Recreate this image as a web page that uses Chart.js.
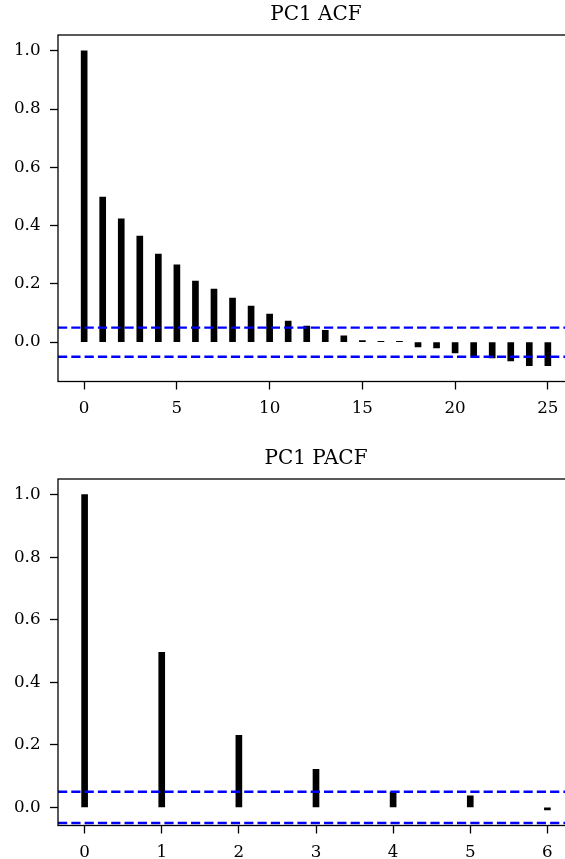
<!DOCTYPE html>
<html>
<head>
<meta charset="utf-8">
<script src="https://cdn.jsdelivr.net/npm/chart.js@4.4.1/dist/chart.umd.min.js"></script>
<style>
   body { margin: 0; background: #fff; overflow: hidden; }
   .wrap { position: relative; width: 565px; height: 859px; overflow: hidden; }
   canvas { position: absolute; left: 0; }
</style>
</head>
<body>
<div class="wrap">
   <canvas id="acfChart" width="580" height="444" style="top:0px"></canvas>
   <canvas id="pacfChart" width="580" height="444" style="top:444px"></canvas>
</div>
<script>
// ==========================================
// Data
// ==========================================

const acfLags = [0, 1, 2, 3, 4, 5, 6, 7, 8, 9, 10, 11, 12, 13, 14, 15, 16, 17, 18, 19, 20, 21, 22, 23, 24, 25];
const acfValues = [1.0, 0.498, 0.423, 0.364, 0.302, 0.265, 0.210, 0.182, 0.151, 0.124, 0.096, 0.072, 0.055,
   0.041, 0.022, 0.005, 0.003, 0.003, -0.016, -0.020, -0.037, -0.046, -0.054, -0.064, -0.081, -0.081];

const pacfLags = [0, 1, 2, 3, 4, 5, 6];
const pacfValues = [1.0, 0.496, 0.230, 0.122, 0.050, 0.037, -0.008];

// confidence band drawn as dashed lines
const confBound = 0.05;

// tick labels
const acfXTicks = [0, 5, 10, 15, 20, 25];
const pacfXTicks = [0, 1, 2, 3, 4, 5, 6];
const yTicks = [0.0, 0.2, 0.4, 0.6, 0.8, 1.0];

// ==========================================
// Chart setup
// ==========================================

const fontFamily = "'DejaVu Serif', 'Liberation Serif', serif";

// matplotlib style box round the plot area
const framePlugin = {
   id: "frame",
   afterDraw(chart) {
      const { ctx, chartArea: a } = chart;
      ctx.save();
      ctx.strokeStyle = "#000";
      ctx.lineWidth = 1.3;
      ctx.strokeRect(a.left, a.top, a.right - a.left, a.bottom - a.top);
      ctx.restore();
   }
};

function bandLine(y, xMin, xMax) {
   return {
      type: "line",
      data: [{ x: xMin, y: y }, { x: xMax, y: y }],
      borderColor: "#0000ff",
      borderWidth: 2.4,
      borderDash: [9.2, 4.1],
      pointRadius: 0,
      fill: false,
      order: 0
   };
}

function makeChart(id, title, lags, values, xTicks, xMin, xMax, yMin, yMax) {
   const tickGrid = { drawOnChartArea: false, drawTicks: true, tickLength: 8, tickWidth: 1.3, tickColor: "#000" };
   return new Chart(document.getElementById(id), {
      type: "bar",
      data: {
         datasets: [
            {
               data: lags.map((l, i) => ({ x: l, y: values[i] })),
               backgroundColor: "#000",
               borderWidth: 0,
               barThickness: 6,
               order: 1
            },
            bandLine(confBound, xMin, xMax),
            bandLine(-confBound, xMin, xMax)
         ]
      },
      options: {
         responsive: false,
         animation: false,
         layout: { padding: { right: 6 } },
         plugins: {
            legend: { display: false },
            tooltip: { enabled: false },
            title: {
               display: true,
               text: title,
               fullSize: false,
               color: "#000",
               font: { family: fontFamily, size: 20, weight: "normal" },
               padding: { top: 3, bottom: 8 }
            }
         },
         scales: {
            x: {
               type: "linear",
               min: xMin,
               max: xMax,
               offset: false,
               grid: Object.assign({ offset: false }, tickGrid),
               border: { display: false },
               afterBuildTicks: s => { s.ticks = xTicks.map(v => ({ value: v })); },
               afterFit: s => { s.height = 62.5; },
               ticks: { color: "#000", padding: 9, font: { family: fontFamily, size: 16.7 }, callback: v => v }
            },
            y: {
               type: "linear",
               min: yMin,
               max: yMax,
               grid: tickGrid,
               border: { display: false },
               afterBuildTicks: s => { s.ticks = yTicks.map(v => ({ value: v })); },
               afterFit: s => { s.width = 58; },
               ticks: { color: "#000", padding: 9.5, font: { family: fontFamily, size: 16.7 }, callback: v => v.toFixed(1) }
            }
         }
      },
      plugins: [framePlugin]
   });
}

let acfChart = makeChart("acfChart", "PC1 ACF", acfLags, acfValues, acfXTicks, -1.41, 26.41, -0.135, 1.054);
let pacfChart = makeChart("pacfChart", "PC1 PACF", pacfLags, pacfValues, pacfXTicks, -0.345, 6.345, -0.058, 1.050);
</script>
</body>
</html>
